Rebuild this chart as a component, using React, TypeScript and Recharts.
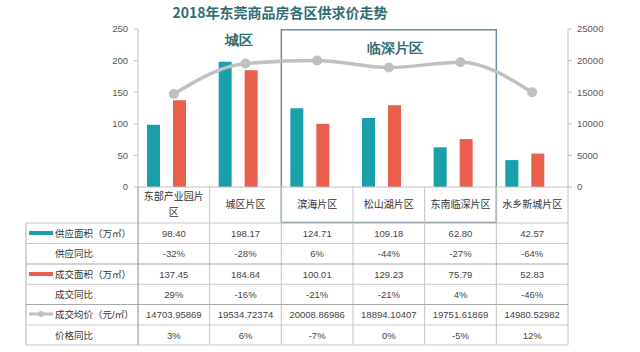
import React from 'react';
import { ComposedChart, Bar, Line, XAxis, YAxis, ReferenceArea } from 'recharts';

const categories = ['东部产业园片区', '城区片区', '滨海片区', '松山湖片区', '东南临深片区', '水乡新城片区'];
const supplyArea = [98.4, 198.17, 124.71, 109.18, 62.8, 42.57];
const supplyYoY = ['-32%', '-28%', '6%', '-44%', '-27%', '-64%'];
const dealArea = [137.45, 184.84, 100.01, 129.23, 75.79, 52.83];
const dealYoY = ['29%', '-16%', '-21%', '-21%', '4%', '-46%'];
const avgPrice = [14703.95869, 19534.72374, 20008.86986, 18894.10407, 19751.61869, 14980.52982];
const priceYoY = ['3%', '6%', '-7%', '0%', '-5%', '12%'];
const leftTicks = [0, 50, 100, 150, 200, 250];
const rightTicks = [0, 5000, 10000, 15000, 20000, 25000];
const rowHeaders = ['供应面积（万㎡）', '供应同比', '成交面积（万㎡）', '成交同比', '成交均价（元/㎡）', '价格同比'];

const data = categories.map((c, i) => ({
  name: c,
  supply: supplyArea[i],
  deal: dealArea[i],
  price: avgPrice[i],
}));

const TEAL = '#19a0aa';
const RED = '#ea5e4e';
const GREY = '#c0c0c0';
const FONT = '"Liberation Sans", "Noto Sans CJK SC", sans-serif';
const COL_W = 430 / 6;
const ROW_Y = [36, 56.5, 77, 97.3, 117.5, 138, 158];

const ColumnTick = (props: any) => {
  const { x, y, payload, index } = props;
  const i = typeof index === 'number' ? index : categories.indexOf(payload.value);
  const left = x - COL_W / 2;
  const right = x + COL_W / 2;
  const name: string = payload.value;
  const lines = name.length > 6 ? [name.slice(0, 6), name.slice(6)] : [name];
  const cells = [
    supplyArea[i].toFixed(2),
    supplyYoY[i],
    dealArea[i].toFixed(2),
    dealYoY[i],
    String(avgPrice[i]),
    priceYoY[i],
  ];
  return (
    <g>
      <line x1={right} x2={right} y1={y} y2={y + ROW_Y[6]} stroke="#c4c4c4" strokeWidth={1} />
      {ROW_Y.map((ry, k) => (
        <line key={k} x1={left} x2={right} y1={y + ry} y2={y + ry} stroke={k === 2 || k === 4 ? '#a8a8a8' : '#c8c8c8'} strokeWidth={1} />
      ))}
      {lines.length === 1 ? (
        <text x={x} y={y + 17} textAnchor="middle" dominantBaseline="central" fontSize={10} fill="#333" fontFamily={FONT}>
          {lines[0]}
        </text>
      ) : (
        lines.map((t, k) => (
          <text key={k} x={x} y={y + 9 + k * 16.5} textAnchor="middle" dominantBaseline="central" fontSize={10} fill="#333" fontFamily={FONT}>
            {t}
          </text>
        ))
      )}
      {cells.map((c, k) => (
        <text
          key={k}
          x={x}
          y={y + (ROW_Y[k] + ROW_Y[k + 1]) / 2}
          textAnchor="middle"
          dominantBaseline="central"
          fontSize={9.5}
          fill="#444"
          fontFamily={FONT}
        >
          {c}
        </text>
      ))}
    </g>
  );
};

const HeaderColumn = () => {
  const ys = [223, 243.5, 264, 284.3, 304.5, 325, 345];
  return (
    <svg width={640} height={352} style={{ position: 'absolute', left: 0, top: 0, pointerEvents: 'none' }}>
      <line x1={26} x2={26} y1={223} y2={345} stroke="#b0b0b0" />
      <line x1={138} x2={138} y1={187} y2={345} stroke="#8c8c8c" />
      {ys.map((y, k) => (
        <line key={k} x1={26} x2={138} y1={y} y2={y} stroke={k === 2 || k === 4 ? '#a8a8a8' : '#c8c8c8'} />
      ))}
      <rect x={29} y={231} width={24} height={4} fill={TEAL} />
      <rect x={29} y={272} width={24} height={4} fill={RED} />
      <line x1={29} x2={53} y1={314} y2={314} stroke={GREY} strokeWidth={3} />
      <circle cx={41} cy={314} r={3} fill={GREY} />
      {rowHeaders.map((h, k) => (
        <text
          key={k}
          x={55}
          y={(ys[k] + ys[k + 1]) / 2}
          dominantBaseline="central"
          fontSize={9.5}
          fill="#333"
          fontFamily={FONT}
        >
          {h}
        </text>
      ))}
    </svg>
  );
};

export default function App() {
  return (
    <div style={{ position: 'absolute', left: 0, top: 0, width: 640, height: 352, background: '#fff' }}>
      <div
        style={{
          position: 'absolute',
          left: 0,
          top: 2,
          width: 560,
          textAlign: 'center',
          fontSize: 14,
          fontWeight: 'bold',
          color: '#2f6e72',
          fontFamily: '"Noto Sans CJK SC", sans-serif',
          lineHeight: '20px',
        }}
      >
        2018年东莞商品房各区供求价走势
      </div>
      <ComposedChart
        width={640}
        height={352}
        data={data}
        margin={{ top: 29, right: 22, left: 98, bottom: 5 }}
        barGap={13}
        style={{ position: 'absolute', left: 0, top: 0 }}
      >
        <XAxis
          dataKey="name"
          xAxisId="x"
          height={160}
          interval={0}
          tickLine={false}
          tickSize={0}
          tickMargin={0}
          axisLine={{ stroke: '#bfbfbf' }}
          tick={<ColumnTick />}
        />
        <YAxis
          yAxisId="left"
          width={40}
          domain={[0, 250]}
          ticks={leftTicks}
          axisLine={{ stroke: '#bfbfbf' }}
          tickLine={{ stroke: '#bfbfbf' }}
          tickSize={4}
          tickMargin={6}
          tick={{ fontSize: 9.5, fill: '#595959', fontFamily: FONT }}
        />
        <YAxis
          yAxisId="right"
          orientation="right"
          width={50}
          domain={[0, 25000]}
          ticks={rightTicks}
          axisLine={{ stroke: '#bfbfbf' }}
          tickLine={{ stroke: '#bfbfbf' }}
          tickSize={4}
          tickMargin={5}
          tick={{ fontSize: 9.5, fill: '#595959', fontFamily: FONT }}
        />
        <ReferenceArea
          xAxisId="x"
          yAxisId="left"
          x1="城区片区"
          x2="城区片区"
          y1={0}
          y2={250}
          fill="none"
          stroke="none"
          ifOverflow="visible"
          label={{ value: '城区', position: 'insideTop', offset: 6, dx: -7, fill: '#2f6e72', fontSize: 14, fontWeight: 'bold' }}
        />
        <ReferenceArea
          xAxisId="x"
          yAxisId="left"
          x1="滨海片区"
          x2="东南临深片区"
          y1={-56}
          y2={249}
          fill="none"
          stroke="#6f8c98"
          strokeWidth={1.5}
          ifOverflow="visible"
          label={{ value: '临深片区', position: 'insideTop', offset: 13, dx: 6, fill: '#2f6e72', fontSize: 14, fontWeight: 'bold' }}
        />
        <Bar xAxisId="x" yAxisId="left" dataKey="supply" fill={TEAL} barSize={13} isAnimationActive={false} />
        <Bar xAxisId="x" yAxisId="left" dataKey="deal" fill={RED} barSize={13} isAnimationActive={false} />
        <Bar xAxisId="x" yAxisId="left" dataKey="spacer" fill="none" barSize={1} isAnimationActive={false} />
        <Line
          xAxisId="x"
          yAxisId="right"
          type="monotone"
          dataKey="price"
          stroke={GREY}
          strokeWidth={3.5}
          dot={{ r: 5, fill: GREY, stroke: 'none' }}
          activeDot={false}
          isAnimationActive={false}
        />
      </ComposedChart>
      <HeaderColumn />
    </div>
  );
}
